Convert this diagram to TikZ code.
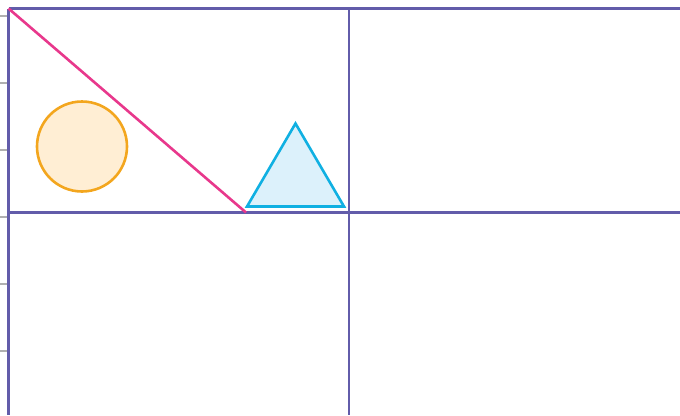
\documentclass[tikz,border=0pt]{standalone}
\definecolor{gridline}{RGB}{98,92,170}
\definecolor{tickgray}{RGB}{176,176,176}
\definecolor{diag}{RGB}{232,56,140}
\definecolor{sun}{RGB}{243,166,30}
\definecolor{sunfill}{RGB}{255,238,212}
\definecolor{sky}{RGB}{16,176,226}
\definecolor{skyfill}{RGB}{220,241,251}
\usetikzlibrary{calc}
\tikzset{
  frame/.style={draw=gridline, line width=2.9pt},
  tick/.style={draw=tickgray, line width=1.2pt},
  diagline/.style={draw=diag, line width=2.6pt},
  disc/.style={draw=sun, fill=sunfill, line width=2.6pt},
  tri/.style={draw=sky, fill=skyfill, line width=2.6pt, line join=miter},
}

\begin{document}
\begin{tikzpicture}[x=1pt,y=-1pt]
    \useasboundingbox (0,0) rectangle (680,415);
    % ticks on the left edge
    \foreach \y in {16,83,150,217,284,351} \draw[tick] (0,\y) -- (8,\y);
    % the grid
    \draw[frame] (8.5,8.5) -- (680,8.5);
    \draw[frame] (8.5,212.5) -- (680,212.5);
    \draw[frame] (8.5,8.5) -- (8.5,415);
    \draw[frame] (349,8.5) -- (349,415);
    % shapes
    \draw[diagline] (8.5,8.5) -- (246,212.5);
    \draw[disc] (82,146.5) circle (45);
    \draw[tri] (295.5,123.5) -- (247,206.5) -- (344,206.5) -- cycle;
  \end{tikzpicture}
\end{document}
